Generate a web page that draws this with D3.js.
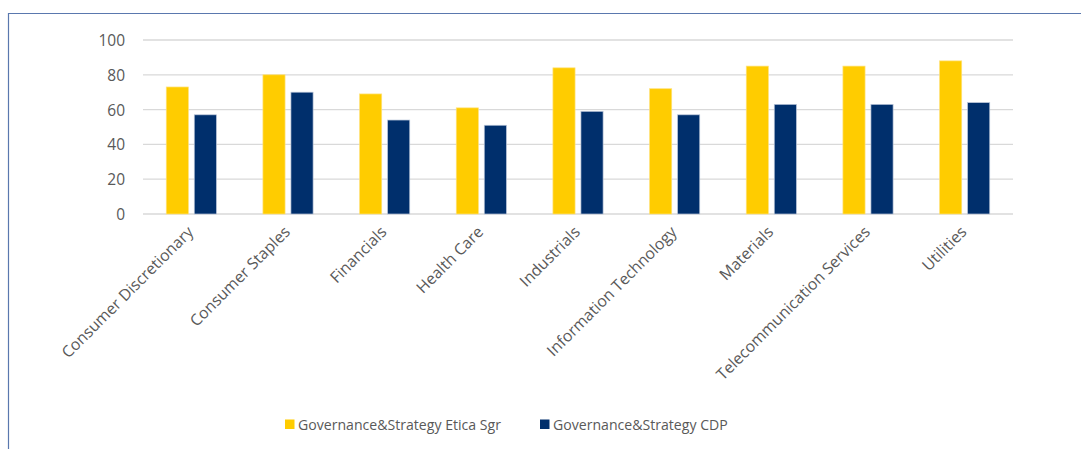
<!DOCTYPE html>
<html><head><meta charset="utf-8">
<script src="https://cdn.jsdelivr.net/npm/d3@7"></script>
<style>body{margin:0;background:#fff;}svg{display:block;}</style>
</head><body>
<svg id="chart" width="1081" height="449"></svg>
<script>
const categories = ["Consumer Discretionary","Consumer Staples","Financials","Health Care","Industrials","Information Technology","Materials","Telecommunication Services","Utilities"];
const seriesNames = ["Governance&Strategy Etica Sgr","Governance&Strategy CDP"];
const eticaValues = [73,80,69,61,84,72,85,85,88];
const cdpValues = [57,70,54,51,59,57,63,63,64];
const yTicks = [0,20,40,60,80,100];
const colors = ["#FFCC00","#002F6C"];

(function(){
const svg = d3.select("#chart");
const font = "'Open Sans', sans-serif";
const textColor = "#595959";

// frame
svg.append("path").attr("d","M8.5,449 L8.5,13.5 L1081,13.5").attr("fill","none").attr("stroke","#5A78AE").attr("stroke-width",1.2);

const pLeft = 143, pRight = 1013, pTop = 40, pBottom = 214;
const x0 = d3.scaleBand().domain(categories).range([pLeft,pRight]).paddingInner(0).paddingOuter(0);
const x1 = d3.scaleBand().domain([0,1]).range([0,x0.bandwidth()]).paddingInner(0.21).paddingOuter(0.83);
const y = d3.scaleLinear().domain([0,100]).range([pBottom,pTop]);

// gridlines
svg.append("g").selectAll("line").data(yTicks).join("line")
  .attr("x1",pLeft).attr("x2",pRight).attr("y1",d=>y(d)).attr("y2",d=>y(d))
  .attr("stroke","#D9D9D9").attr("stroke-width",1.3);

// y axis labels
const yAxis = d3.axisLeft(y).tickValues(yTicks).tickSize(0).tickPadding(0);
const ya = svg.append("g").attr("transform",`translate(125,0)`).call(yAxis);
ya.select(".domain").remove();
ya.selectAll("text").attr("font-family",font).attr("font-size",15.5).attr("fill",textColor).attr("dy","0.35em");

// bars
const data = categories.map((c,i)=>({c, vals:[eticaValues[i],cdpValues[i]]}));
const g = svg.append("g");
g.selectAll("g").data(data).join("g").attr("transform",d=>`translate(${x0(d.c)},0)`)
  .selectAll("rect").data(d=>d.vals.map((v,k)=>({v,k}))).join("rect")
  .attr("x",d=>x1(d.k)).attr("width",x1.bandwidth())
  .attr("y",d=>y(d.v)).attr("height",d=>y(0)-y(d.v))
  .attr("fill",d=>colors[d.k])
  .attr("stroke",d=>d.k===1?"#B8C4D8":"#FFE27A").attr("stroke-width",0.7);

// x axis labels
const xAxis = d3.axisBottom(x0).tickSize(0).tickPadding(0);
const xa = svg.append("g").attr("transform",`translate(0,${pBottom})`).call(xAxis);
xa.select(".domain").remove();
xa.selectAll("text").attr("font-family",font).attr("font-size",15.8).attr("fill",textColor)
  .attr("text-anchor","end").attr("dy",null)
  .attr("transform","translate(3,19) rotate(-45)");

// legend
const legend = svg.append("g");
const lx = [285,540];
seriesNames.forEach((n,i)=>{
  legend.append("rect").attr("x",lx[i]).attr("y",419.5).attr("width",9.5).attr("height",9.5).attr("fill",colors[i]);
  legend.append("text").attr("x",lx[i]+13).attr("y",430).attr("font-family",font).attr("font-size",14.1).attr("fill",textColor).text(n);
});
})();
</script>
</body></html>
